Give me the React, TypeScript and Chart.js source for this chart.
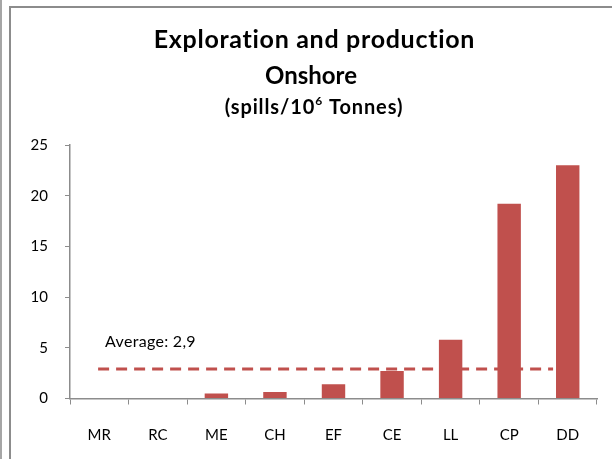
import React, { useEffect, useRef } from 'react';
import { Chart, registerables } from 'chart.js';

Chart.register(...registerables);

const categories = ['MR', 'RC', 'ME', 'CH', 'EF', 'CE', 'LL', 'CP', 'DD'];
const spills = [0, 0, 0.5, 0.65, 1.4, 2.7, 5.8, 19.2, 23.0];
const average = 2.9;
const averageLabel = 'Average: 2,9';
const titleLines = ['Exploration and production', 'Onshore'];
const subtitleParts = ['(spills/10', '6', ' Tonnes)'];

const FONT = 'Lato, "Open Sans", sans-serif';
const BAR = '#C0504D';
const AXIS = '#8c8c8c';

const titlePlugin = {
  id: 'customTitle',
  afterDraw(chart: any) {
    const ctx = chart.ctx;
    const cx = 314;
    ctx.save();
    ctx.fillStyle = '#000';
    ctx.textAlign = 'center';
    ctx.textBaseline = 'middle';
    ctx.font = `bold 25px ${FONT}`;
    ctx.letterSpacing = '0.7px';
    ctx.fillText(titleLines[0], cx + 0.4, 40);
    ctx.font = `bold 24px ${FONT}`;
    ctx.letterSpacing = '0px';
    ctx.fillText(titleLines[1], cx - 3, 76);
    // subtitle with superscript
    const mainFont = `bold 20px ${FONT}`;
    const supFont = `bold 12px ${FONT}`;
    ctx.letterSpacing = '0.9px';
    ctx.font = mainFont;
    const w0 = ctx.measureText(subtitleParts[0]).width;
    const w2 = ctx.measureText(subtitleParts[2]).width;
    ctx.font = supFont;
    const w1 = ctx.measureText(subtitleParts[1]).width;
    const total = w0 + w1 + w2;
    let x = cx - total / 2;
    ctx.textAlign = 'left';
    ctx.font = mainFont;
    ctx.fillText(subtitleParts[0], x, 108);
    x += w0;
    ctx.font = supFont;
    ctx.fillText(subtitleParts[1], x, 101);
    x += w1;
    ctx.font = mainFont;
    ctx.fillText(subtitleParts[2], x, 108);
    ctx.restore();
  },
};

const averagePlugin = {
  id: 'averageLine',
  beforeDatasetsDraw(chart: any) {
    const { ctx, scales } = chart;
    const xs = scales.x;
    const ys = scales.y;
    const y = ys.getPixelForValue(average);
    const x0 = xs.getPixelForValue(-0.02);
    const x1 = xs.getPixelForValue(7.75);
    ctx.save();
    ctx.strokeStyle = BAR;
    ctx.lineWidth = 3;
    ctx.setLineDash([11, 7]);
    ctx.beginPath();
    ctx.moveTo(x0, y);
    ctx.lineTo(x1, y);
    ctx.stroke();
    ctx.setLineDash([]);
    ctx.fillStyle = '#000';
    ctx.font = `16px ${FONT}`;
    ctx.letterSpacing = '0.3px';
    ctx.textAlign = 'left';
    ctx.textBaseline = 'middle';
    ctx.fillText(averageLabel, x0 + 7, y - 27);
    ctx.restore();
  },
};

export default function App() {
  const ref = useRef<HTMLCanvasElement>(null);

  useEffect(() => {
    if (!ref.current) return;
    const chart = new Chart(ref.current, {
      type: 'bar',
      data: {
        labels: categories,
        datasets: [
          {
            data: spills,
            backgroundColor: BAR,
            borderWidth: 0,
            categoryPercentage: 1,
            barPercentage: 0.4,
          },
        ],
      },
      options: {
        animation: false,
        responsive: false,
        maintainAspectRatio: false,
        layout: { padding: { top: 145, right: 15, left: 0, bottom: 0 } },
        plugins: {
          legend: { display: false },
          tooltip: { enabled: false },
          title: { display: false },
        },
        scales: {
          x: {
            afterFit: (s: any) => {
              s.height = 60.5;
            },
            grid: {
              display: true,
              drawOnChartArea: false,
              drawTicks: true,
              tickLength: 6,
              color: AXIS,
              offset: true,
            },
            border: { display: true, color: AXIS, width: 1.5 },
            ticks: {
              color: '#000',
              font: { family: FONT, size: 15 },
              padding: 22,
              maxRotation: 0,
            },
          },
          y: {
            min: 0,
            max: 25,
            afterFit: (s: any) => {
              s.width = 70;
            },
            grid: {
              display: true,
              drawOnChartArea: false,
              drawTicks: true,
              tickLength: 5,
              color: AXIS,
            },
            border: { display: true, color: AXIS, width: 1.5 },
            ticks: {
              stepSize: 5,
              color: '#000',
              font: { family: FONT, size: 15 },
              padding: 17,
            },
          },
        },
      },
      plugins: [titlePlugin, averagePlugin],
    });
    return () => chart.destroy();
  }, []);

  return (
    <div style={{ position: 'fixed', left: 0, top: 0, width: 612, height: 459, background: '#fff', overflow: 'hidden' }}>
      <div style={{ position: 'absolute', left: 0, top: 0, width: 2, height: 459, background: '#a6a6a6' }} />
      <div
        style={{
          position: 'absolute',
          left: 9,
          top: 6,
          width: 620,
          height: 470,
          border: '2px solid #8c8c8c',
          boxSizing: 'border-box',
        }}
      />
      <canvas ref={ref} width={612} height={459} style={{ position: 'absolute', left: 0, top: 0, width: 612, height: 459 }} />
    </div>
  );
}
